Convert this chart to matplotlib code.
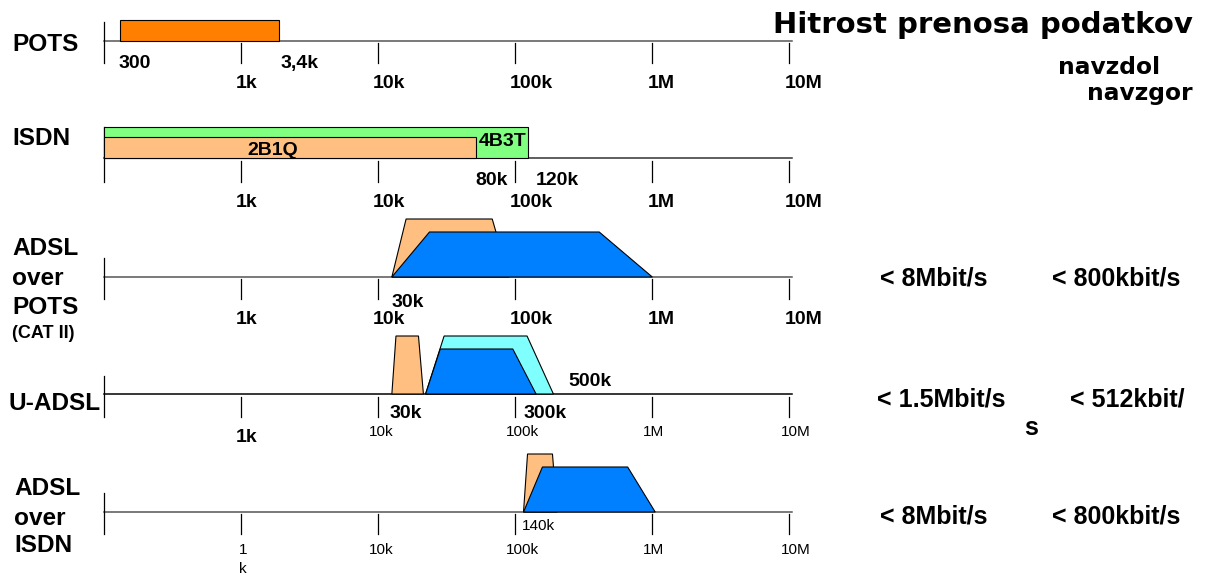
import matplotlib
matplotlib.use("Agg")
import matplotlib.pyplot as plt
from matplotlib.transforms import offset_copy

W, H = 1208, 574

# frequency axis (Hz, log scale)
decades = [1e3, 1e4, 1e5, 1e6, 1e7]
decade_labels = ["1k", "10k", "100k", "1M", "10M"]
f_min, f_max = 100, 10.5e6

# row baselines, px from top
row_base = [41, 158, 277, 394, 512]

# POTS voice band
pots_band = [131, 1900]
pots_h = 21

# ISDN line codes
isdn_4b3t = [100, 124e3]
isdn_4b3t_h = 31
isdn_2b1q = [100, 52e3]
isdn_2b1q_h = 21

# trapezoids: start, top start, top end, end (Hz)
adsl_pots_up = [12.6e3, 16e3, 68e3, 90e3]
adsl_pots_down = [12.6e3, 23.7e3, 410e3, 1.0e6]
uadsl_up = [12.6e3, 13.5e3, 19.7e3, 21.4e3]
uadsl_down_max = [22.2e3, 30.3e3, 122e3, 190e3]
uadsl_down = [22.2e3, 28.4e3, 96e3, 142e3]
adsl_isdn_up = [115e3, 123e3, 187e3, 202e3]
adsl_isdn_down = [115e3, 158e3, 661e3, 1.05e6]
up_h, down_h = 58, 45

c_pots = "#ff8000"
c_up = "#ffbf80"
c_isdn = "#80ff80"
c_down = "#0080ff"
c_cyan = "#80ffff"

BOLD = dict(family="Liberation Sans", fontweight="bold")
REG = dict(family="Liberation Sans")

fig = plt.figure(figsize=(W / 100, H / 100), dpi=100)


def px(x, y):
    return x / W, 1 - y / H


def row_axes(base):
    ax = fig.add_axes([0, (H - base - 80) / H, 1, 160 / H])
    ax.set_xscale("log")
    ax.set_xlim(10 ** (3 - 241 / 137.1), 10 ** (3 + 967 / 137.1))
    ax.set_ylim(-80, 80)
    ax.axis("off")
    return ax


def draw_axis(ax, up=19, down=22, top=2, color="#555555"):
    ax.plot([f_min, f_max], [0, 0], color=color, lw=1.1, zorder=1)
    ax.plot([f_min, f_min], [up, -down], color="black", lw=0.9)
    for d in decades:
        ax.plot([d, d], [-top, -down], color="black", lw=0.9)


def trap(ax, f, h, color, z):
    ax.fill(f, [0, h, h, 0], facecolor=color, edgecolor="black", lw=0.8, zorder=z)


def decade_text(ax, y, labels, dx=-5, size=14, style=BOLD):
    for d, lab in zip(decades, labels):
        if lab is None:
            continue
        tr = offset_copy(ax.transData, fig=fig, x=dx, y=0, units="dots")
        ax.text(d, y, lab, transform=tr, ha="left", va="baseline", fontsize=size, **style)


# Row 1: POTS
ax = row_axes(row_base[0])
draw_axis(ax)
ax.fill([pots_band[0], pots_band[0], pots_band[1], pots_band[1]], [0, pots_h, pots_h, 0],
        facecolor=c_pots, edgecolor="black", lw=0.8, zorder=2)
decade_text(ax, -47.3, decade_labels)
fig.text(*px(119, 68.3), "300", fontsize=14, va="baseline", **BOLD)
fig.text(*px(281, 68.3), "3,4k", fontsize=14, va="baseline", **BOLD)

# Row 2: ISDN
ax = row_axes(row_base[1])
draw_axis(ax, up=31, down=24, top=3, color="#333333")
ax.fill([isdn_4b3t[0], isdn_4b3t[0], isdn_4b3t[1], isdn_4b3t[1]], [0, isdn_4b3t_h, isdn_4b3t_h, 0],
        facecolor=c_isdn, edgecolor="black", lw=0.8, zorder=2)
ax.fill([isdn_2b1q[0], isdn_2b1q[0], isdn_2b1q[1], isdn_2b1q[1]], [0, isdn_2b1q_h, isdn_2b1q_h, 0],
        facecolor=c_up, edgecolor="black", lw=0.8, zorder=3)
decade_text(ax, -48.7, decade_labels)
fig.text(*px(273, 155), "2B1Q", fontsize=14, ha="center", va="baseline", **BOLD)
fig.text(*px(503, 146), "4B3T", fontsize=14, ha="center", va="baseline", **BOLD)
fig.text(*px(475, 185), "80k", fontsize=14, va="baseline", **BOLD)
fig.text(*px(536, 185), "120k", fontsize=14, va="baseline", **BOLD)

# Row 3: ADSL over POTS
ax = row_axes(row_base[2])
draw_axis(ax)
trap(ax, adsl_pots_up, up_h, c_up, 2)
trap(ax, adsl_pots_down, down_h, c_down, 3)
decade_text(ax, -46.7, decade_labels)
fig.text(*px(392, 306.7), "30k", fontsize=14, va="baseline", **BOLD)

# Row 4: U-ADSL
ax = row_axes(row_base[3])
draw_axis(ax, up=18, down=23, top=3, color="black")
trap(ax, uadsl_up, up_h, c_up, 2)
trap(ax, uadsl_down_max, up_h, c_cyan, 2)
trap(ax, uadsl_down, down_h, c_down, 3)
decade_text(ax, -47.7, ["1k", None, None, None, None])
decade_text(ax, -42, [None, "10k", "100k", "1M", "10M"], dx=-9, size=11, style=REG)
fig.text(*px(390, 418.3), "30k", fontsize=14, va="baseline", **BOLD)
fig.text(*px(524, 418.3), "300k", fontsize=14, va="baseline", **BOLD)
fig.text(*px(568, 386), "500k", fontsize=14, va="baseline", **BOLD)

# Row 5: ADSL over ISDN
ax = row_axes(row_base[4])
draw_axis(ax)
trap(ax, adsl_isdn_up, up_h, c_up, 2)
trap(ax, adsl_isdn_down, down_h, c_down, 3)
decade_text(ax, -42, [None, "10k", "100k", "1M", "10M"], dx=-9, size=11, style=REG)
fig.text(*px(243, 554), "1", fontsize=11, ha="center", va="baseline", **REG)
fig.text(*px(243, 572.7), "k", fontsize=11, ha="center", va="baseline", **REG)
fig.text(*px(522, 530), "140k", fontsize=11, va="baseline", **REG)

# row names
for txt, x, y, size in [("POTS", 12, 50.7, 17.6), ("ISDN", 12, 145, 17.6),
                        ("ADSL", 12, 255, 17.6), ("over", 12, 285, 17.6),
                        ("POTS", 12, 314, 17.6), ("(CAT II)", 12, 338, 13),
                        ("U-ADSL", 9, 410, 17.6),
                        ("ADSL", 14, 495, 17.6), ("over", 14, 525, 17.6),
                        ("ISDN", 14, 551.7, 17.6)]:
    fig.text(*px(x, y), txt, fontsize=size, va="baseline", **BOLD)

# title and rate columns
fig.text(*px(1193, 33), "Hitrost prenosa podatkov", fontsize=21, ha="right", va="baseline",
         family="DejaVu Sans", fontweight="bold")
fig.text(*px(1160, 74), "navzdol", fontsize=16.8, ha="right", va="baseline",
         family="DejaVu Sans", fontweight="bold")
fig.text(*px(1193, 100), "navzgor", fontsize=16.8, ha="right", va="baseline",
         family="DejaVu Sans", fontweight="bold")

rates = [("< 8Mbit/s", 880, 285), ("< 800kbit/s", 1052, 285),
         ("< 1.5Mbit/s", 877, 406.7), ("< 512kbit/", 1070, 406.7), ("s", 1024, 435),
         ("< 8Mbit/s", 880, 523.3), ("< 800kbit/s", 1052, 523.3)]
for txt, x, y in rates:
    fig.text(*px(x, y), txt, fontsize=18, va="baseline", **BOLD)

fig.savefig("out.png", dpi=100)
